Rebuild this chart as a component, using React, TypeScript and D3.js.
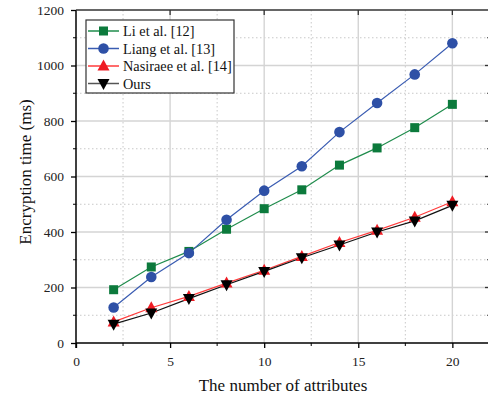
import * as d3 from "d3";
import React, { useRef, useEffect } from "react";

const W = 488;
const H = 396;
const margin = { top: 10, right: -2, bottom: 53, left: 76 };
const width = W - margin.left - margin.right;
const height = H - margin.top - margin.bottom;

const attributes = [2, 4, 6, 8, 10, 12, 14, 16, 18, 20];
const li = [192, 274, 330, 410, 484, 552, 641, 703, 776, 860];
const liang = [128, 238, 324, 444, 549, 637, 760, 865, 968, 1080];
const nasiraee = [76, 127, 168, 216, 262, 312, 362, 406, 453, 509];
const ours = [68, 108, 160, 210, 258, 307, 353, 400, 440, 496];

const seriesNames = ["Li et al. [12]", "Liang et al. [13]", "Nasiraee et al. [14]", "Ours"];
const lineColors = ["#1f8c4c", "#3a5cb2", "#ff3b3b", "#111111"];
const markColors = ["#0c7a3c", "#2e50a6", "#ee1c24", "#000000"];
const markers = ["square", "circle", "up", "down"];

const font = "Liberation Serif, Times New Roman, serif";

function drawMarker(g, kind, x, y, color) {
  if (kind === "square") {
    g.append("rect").attr("x", x - 4.5).attr("y", y - 4.5).attr("width", 9).attr("height", 9).attr("fill", color);
  } else if (kind === "circle") {
    g.append("circle").attr("cx", x).attr("cy", y).attr("r", 5.3).attr("fill", color);
  } else if (kind === "up") {
    g.append("path").attr("d", `M${x},${y - 6.5}L${x + 6},${y + 4.5}L${x - 6},${y + 4.5}Z`).attr("fill", color);
  } else {
    g.append("path").attr("d", `M${x},${y + 6.5}L${x + 6},${y - 4.5}L${x - 6},${y - 4.5}Z`).attr("fill", color);
  }
}

function App() {
  const ref = useRef(null);

  useEffect(() => {
    const svg = d3.select(ref.current);
    svg.selectAll("*").remove();

    const x = d3.scaleLinear().domain([0, 22]).range([0, width]);
    const y = d3.scaleLinear().domain([0, 1200]).range([height, 0]);

    const g = svg.append("g").attr("transform", `translate(${margin.left},${margin.top})`);

    // grid: minor dotted, major solid
    const xMajor = [5, 10, 15, 20];
    const xMinor = [2.5, 7.5, 12.5, 17.5];
    const yMajor = d3.range(200, 1200, 200);
    const yMinor = d3.range(100, 1200, 200);

    g.selectAll(".gxm").data(xMinor).enter().append("line")
      .attr("x1", (d) => x(d)).attr("x2", (d) => x(d)).attr("y1", 0).attr("y2", height)
      .attr("stroke", "#c8c8c8").attr("stroke-dasharray", "1.5,2.5");
    g.selectAll(".gym").data(yMinor).enter().append("line")
      .attr("y1", (d) => y(d)).attr("y2", (d) => y(d)).attr("x1", 0).attr("x2", width)
      .attr("stroke", "#c8c8c8").attr("stroke-dasharray", "1.5,2.5");
    g.selectAll(".gx").data(xMajor).enter().append("line")
      .attr("x1", (d) => x(d)).attr("x2", (d) => x(d)).attr("y1", 0).attr("y2", height)
      .attr("stroke", "#d4d4d4").attr("stroke-width", 1.4);
    g.selectAll(".gy").data(yMajor).enter().append("line")
      .attr("y1", (d) => y(d)).attr("y2", (d) => y(d)).attr("x1", 0).attr("x2", width)
      .attr("stroke", "#d4d4d4").attr("stroke-width", 1.4);

    // axes
    const xAxis = g.append("g").attr("transform", `translate(0,${height})`)
      .call(d3.axisBottom(x).tickValues([0, 5, 10, 15, 20]).tickFormat(d3.format("d"))
        .tickSize(5).tickPadding(8).tickSizeOuter(0));
    const yAxis = g.append("g")
      .call(d3.axisLeft(y).tickValues(d3.range(0, 1201, 200)).tickFormat(d3.format("d"))
        .tickSize(5).tickPadding(7).tickSizeOuter(0));
    [xAxis, yAxis].forEach((a) => {
      a.attr("font-family", font).attr("font-size", 13.5);
      a.select(".domain").attr("stroke", "#000").attr("stroke-width", 1.5);
      a.selectAll(".tick line").attr("stroke", "#000").attr("stroke-width", 1.3);
      a.selectAll(".tick text").attr("font-family", font).attr("fill", "#222");
    });
    xAxis.selectAll(".domain").attr("d", `M0,0H${width}`);
    yAxis.select(".domain").attr("d", `M0,0V${height + 5}`);

    // minor ticks bottom/left
    g.selectAll(".mtx").data(xMinor).enter().append("line")
      .attr("x1", (d) => x(d)).attr("x2", (d) => x(d)).attr("y1", height).attr("y2", height + 3)
      .attr("stroke", "#000");
    g.selectAll(".mty").data(yMinor).enter().append("line")
      .attr("x1", -3).attr("x2", 0).attr("y1", (d) => y(d)).attr("y2", (d) => y(d))
      .attr("stroke", "#000");

    // top and right frame
    g.append("line").attr("x1", 0).attr("x2", width).attr("y1", 0).attr("y2", 0)
      .attr("stroke", "#333").attr("stroke-width", 1.5);
    g.append("line").attr("x1", width).attr("x2", width).attr("y1", 0).attr("y2", height)
      .attr("stroke", "#333").attr("stroke-width", 1.5);
    g.selectAll(".tt").data(xMajor).enter().append("line")
      .attr("x1", (d) => x(d)).attr("x2", (d) => x(d)).attr("y1", 0).attr("y2", 5)
      .attr("stroke", "#333").attr("stroke-width", 1.3);
    g.selectAll(".rt").data(yMajor).enter().append("line")
      .attr("x1", width - 5).attr("x2", width).attr("y1", (d) => y(d)).attr("y2", (d) => y(d))
      .attr("stroke", "#333").attr("stroke-width", 1.3);
    g.selectAll(".rtm").data(yMinor).enter().append("line")
      .attr("x1", width - 3).attr("x2", width).attr("y1", (d) => y(d)).attr("y2", (d) => y(d))
      .attr("stroke", "#333");

    // series
    const allSeries = [li, liang, nasiraee, ours];
    const line = d3.line().x((d) => x(d[0])).y((d) => y(d[1]));
    allSeries.forEach((vals, i) => {
      const pts = attributes.map((a, j) => [a, vals[j]]);
      g.append("path").attr("d", line(pts)).attr("fill", "none")
        .attr("stroke", lineColors[i]).attr("stroke-width", 1.2);
    });
    allSeries.forEach((vals, i) => {
      const mg = g.append("g");
      attributes.forEach((a, j) => drawMarker(mg, markers[i], x(a), y(vals[j]), markColors[i]));
    });

    // legend
    const lg = svg.append("g").attr("transform", "translate(86,20)");
    lg.append("rect").attr("x", 0).attr("y", 0).attr("width", 148).attr("height", 73)
      .attr("fill", "#fff").attr("stroke", "#333").attr("stroke-width", 1.2);
    seriesNames.forEach((name, i) => {
      const cy = 11 + i * 17.5;
      lg.append("line").attr("x1", 2).attr("x2", 33).attr("y1", cy).attr("y2", cy)
        .attr("stroke", i === 3 ? "#555" : lineColors[i]).attr("stroke-width", 1.5);
      drawMarker(lg, markers[i], 17.5, cy, markColors[i]);
      lg.append("text").attr("x", 37).attr("y", cy + 5).text(name)
        .attr("font-family", font).attr("font-size", 14.3).attr("fill", "#111");
    });

    // axis titles
    svg.append("text").attr("x", margin.left + x(11)).attr("y", 391)
      .attr("text-anchor", "middle").attr("font-family", font).attr("font-size", 17)
      .attr("fill", "#111").text("The number of attributes");
    svg.append("text").attr("transform", "translate(31,172) rotate(-90)")
      .attr("text-anchor", "middle").attr("font-family", font).attr("font-size", 17)
      .attr("fill", "#111").text("Encryption time (ms)");
  }, []);

  return (
    <svg ref={ref} width={W} height={H}
      style={{ position: "absolute", left: 0, top: 0, background: "#fff", fontFamily: font }} />
  );
}

export default App;
